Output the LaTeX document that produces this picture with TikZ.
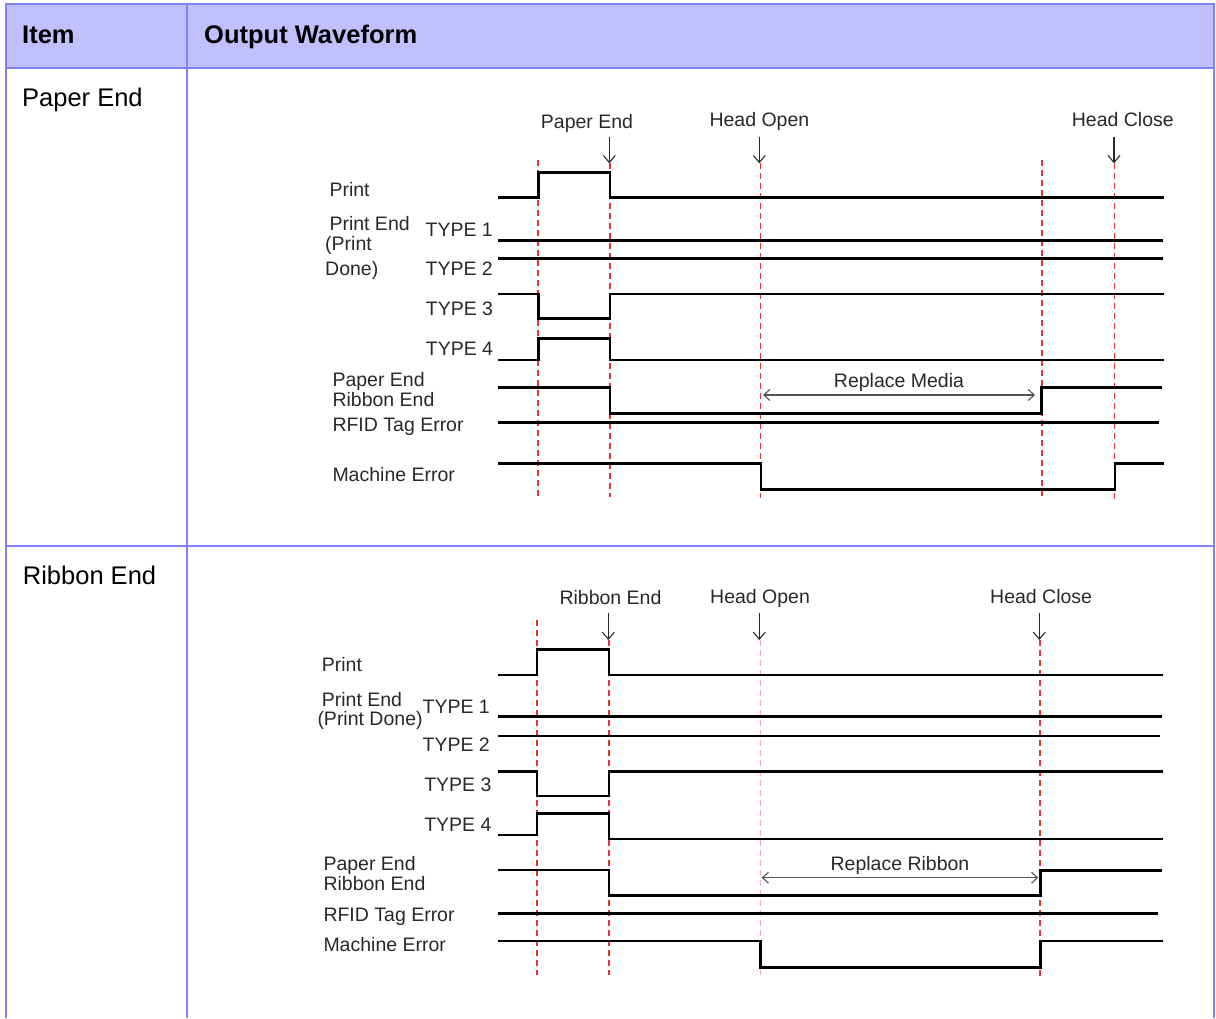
\documentclass[tikz,border=0pt]{standalone}
\usepackage{fontspec}
\setmainfont{Liberation Sans}
\usetikzlibrary{arrows.meta}
\definecolor{tableline}{RGB}{130,130,255}
\definecolor{tablehead}{RGB}{192,192,255}
\definecolor{guidered}{RGB}{238,45,55}
\definecolor{guidepink}{RGB}{255,170,180}
\definecolor{labelgray}{RGB}{40,40,40}
\tikzstyle{header} = [anchor=base west, inner sep=0pt, font=\fontsize{25.5}{30}\selectfont\bfseries]
\tikzstyle{cell} = [anchor=base west, inner sep=0pt, font=\fontsize{25.5}{30}\selectfont]
\tikzstyle{signal} = [anchor=base west, inner sep=0pt, text=labelgray, font=\fontsize{19.5}{22}\selectfont]
\tikzstyle{typelabel} = [signal, anchor=base east]
\tikzstyle{event} = [signal]
\tikzstyle{wave} = [line width=2.6pt, line join=miter]
\tikzstyle{guide} = [line width=1.8pt, guidered, dash pattern=on 6pt off 4pt]
\tikzstyle{faint} = [line width=1.2pt, guidepink, dash pattern=on 6pt off 4pt]
\tikzstyle{arrow} = [line width=1.1pt, labelgray, -{Straight Barb[length=7pt,width=12pt]}]
\tikzstyle{span} = [line width=1.1pt, labelgray!80, {Straight Barb[length=6pt,width=11pt]}-{Straight Barb[length=6pt,width=11pt]}]
\tikzstyle{border} = [line width=2pt, tableline]

\begin{document}
\begin{tikzpicture}[x=1pt, y=-1pt]
\useasboundingbox (0,0) rectangle (1216,1018);

% Table
\fill [tablehead] (5.7,3.7) rectangle (1214.3,67.8);
\draw [border] (5.7,1018) -- (5.7,3.7) -- (1214.3,3.7) -- (1214.3,1018);
\draw [border] (5.7,67.8) -- (1214.3,67.8);
\draw [border] (5.7,545.7) -- (1214.3,545.7);
\draw [border] (187.2,3.7) -- (187.2,1018);

\node (item) [header] at (22,43.3) {Item};
\node (waveform) [header] at (204,43.3) {Output Waveform};
\node (rowPaper) [cell] at (22,106) {Paper End};
\node (rowRibbon) [cell] at (22.7,584.3) {Ribbon End};

% Paper End: guides
\draw [guide] (538.3,160) -- (538.3,497);
\draw [guide] (610,163) -- (610,497);
\draw [guide] (760.5,163) -- (760.5,498);
\draw [guide] (1041.7,160) -- (1041.7,497);
\draw [guide] (1114.5,163) -- (1114.5,501.7);

% Paper End: waves
\draw [wave] (498,197.7) -- (538.3,197.7) -- (538.3,172.7) -- (610,172.7) -- (610,197.7) -- (1164,197.7);
\draw [wave] (498,240.7) -- (1162.7,240.7);
\draw [wave] (498,258.3) -- (1162.7,258.3);
\draw [wave] (498,294) -- (538.3,294) -- (538.3,318.3) -- (610,318.3) -- (610,294) -- (1164,294);
\draw [wave] (498,360) -- (538.3,360) -- (538.3,338.7) -- (610,338.7) -- (610,360) -- (1164,360);
\draw [wave] (498,387.3) -- (610,387.3) -- (610,413.3) -- (1041.7,413.3) -- (1041.7,387.3) -- (1162,387.3);
\draw [wave] (498,422.7) -- (1159.3,422.7);
\draw [wave] (498,463.7) -- (761,463.7) -- (761,489.3) -- (1115,489.3) -- (1115,463.7) -- (1164,463.7);

% Paper End: nodes
\node (print1) [signal] at (329.3,196.7) {Print};
\node (printEnd1) [signal] at (329.3,230) {Print End};
\node (printA1) [signal] at (325,250) {(Print};
\node (printB1) [signal] at (325,275) {Done)};
\node (type11) [typelabel] at (493,236.7) {TYPE 1};
\node (type21) [typelabel] at (493,275) {TYPE 2};
\node (type31) [typelabel] at (493.3,315) {TYPE 3};
\node (type41) [typelabel] at (493.3,355) {TYPE 4};
\node (paperEnd1) [signal] at (332.3,386.7) {Paper End};
\node (ribbonEnd1) [signal] at (332.3,406.7) {Ribbon End};
\node (rfid1) [signal] at (332.3,431.7) {RFID Tag Error};
\node (machine1) [signal] at (332.3,481) {Machine Error};

\node (evPaper1) [event] at (540.7,128.3) {Paper End};
\node (evOpen1) [event] at (709.3,126.7) {Head Open};
\node (evClose1) [event] at (1071.7,126.7) {Head Close};

% Paper End: arrows
\coordinate (fromPaper1) at (609.3,136.7);
\coordinate (toPaper1) at (609.3,163.3);
\coordinate (fromOpen1) at (759.3,136.7);
\coordinate (toOpen1) at (759.3,163.3);
\coordinate (fromClose1) at (1114,136.7);
\coordinate (toClose1) at (1114,163.3);
\coordinate (spanL1) at (763,395);
\coordinate (spanR1) at (1035,395);
\draw [arrow] (fromPaper1) -- (toPaper1);
\draw [arrow] (fromOpen1) -- (toOpen1);
\draw [arrow] (fromClose1) -- (toClose1);
\draw [span] (spanL1) -- node (replace1) [midway, above=3pt, inner sep=0pt, text=labelgray, font=\fontsize{19.5}{22}\selectfont] {Replace Media} (spanR1);

% Ribbon End: guides
\draw [guide] (537,620) -- (537,975);
\draw [guide] (609,640) -- (609,975);
\draw [faint] (760.7,640) -- (760.7,975);
\draw [guide] (1040,640) -- (1040,976.7);

% Ribbon End: waves
\draw [wave] (498.3,675) -- (537,675) -- (537,649.3) -- (609,649.3) -- (609,675) -- (1163.3,675);
\draw [wave] (498.3,716.7) -- (1162,716.7);
\draw [wave] (498.3,736) -- (1160,736);
\draw [wave] (498.3,771.7) -- (537,771.7) -- (537,796) -- (609,796) -- (609,771.7) -- (1163.3,771.7);
\draw [wave] (498.3,835) -- (537,835) -- (537,813.3) -- (609,813.3) -- (609,839) -- (1163.3,839);
\draw [wave] (498.3,870) -- (609,870) -- (609,895.5) -- (1040.5,895.5) -- (1040.5,870.5) -- (1161.7,870.5);
\draw [wave] (498.3,913.3) -- (1158.3,913.3);
\draw [wave] (498.3,941) -- (760.7,941) -- (760.7,967.7) -- (1040.5,967.7) -- (1040.5,941) -- (1163.3,941);

% Ribbon End: nodes
\node (print2) [signal] at (321.7,671.7) {Print};
\node (printEnd2) [signal] at (321.7,706.7) {Print End};
\node (printDone2) [signal] at (317.3,725.7) {(Print Done)};
\node (type12) [typelabel] at (490,713.3) {TYPE 1};
\node (type22) [typelabel] at (490,751.7) {TYPE 2};
\node (type32) [typelabel] at (491.7,791.7) {TYPE 3};
\node (type42) [typelabel] at (491.7,831.7) {TYPE 4};
\node (paperEnd2) [signal] at (323.3,870) {Paper End};
\node (ribbonEnd2) [signal] at (323.3,890) {Ribbon End};
\node (rfid2) [signal] at (323.3,921.7) {RFID Tag Error};
\node (machine2) [signal] at (323.3,951.7) {Machine Error};

\node (evRibbon2) [event] at (559.3,604) {Ribbon End};
\node (evOpen2) [event] at (710,603.3) {Head Open};
\node (evClose2) [event] at (990,603.3) {Head Close};

% Ribbon End: arrows
\coordinate (fromRibbon2) at (608.3,613.3);
\coordinate (toRibbon2) at (608.3,640);
\coordinate (fromOpen2) at (759.3,613.3);
\coordinate (toOpen2) at (759.3,640);
\coordinate (fromClose2) at (1039.3,613.3);
\coordinate (toClose2) at (1039.3,640);
\coordinate (spanL2) at (761.7,877.7);
\coordinate (spanR2) at (1038.3,877.7);
\draw [arrow] (fromRibbon2) -- (toRibbon2);
\draw [arrow] (fromOpen2) -- (toOpen2);
\draw [arrow] (fromClose2) -- (toClose2);
\draw [span] (spanL2) -- node (replace2) [midway, above=3pt, inner sep=0pt, text=labelgray, font=\fontsize{19.5}{22}\selectfont] {Replace Ribbon} (spanR2);

\end{tikzpicture}
\end{document}
